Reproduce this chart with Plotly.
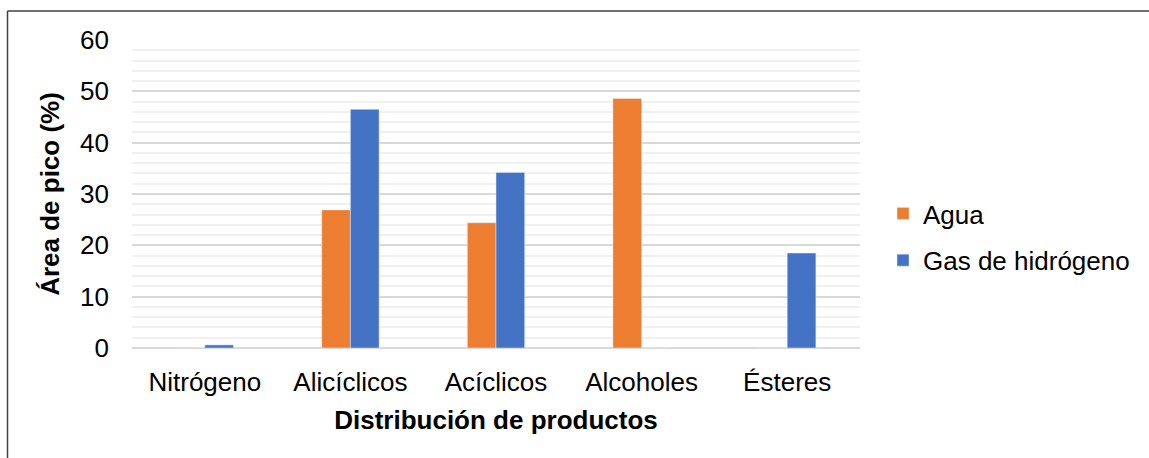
import plotly.graph_objects as go

# Product distribution by peak area (%)
categories = ["Nitrógeno", "Alicíclicos", "Acíclicos", "Alcoholes", "Ésteres"]
agua = [0, 26.9, 24.4, 48.6, 0]
gas_hidrogeno = [0.6, 46.5, 34.2, 0, 18.5]
y_ticks = [0, 10, 20, 30, 40, 50, 60]

FONT = "Liberation Sans, Arial, sans-serif"
FS = 26
W, H = 1149, 458
L, R, T, B = 132, 289, 40, 110
pw, ph = W - L - R, H - T - B

fig = go.Figure()
fig.add_trace(go.Bar(x=categories, y=agua, name="Agua", marker_color="#ED7D31",
                     legendgroup="a"))
fig.add_trace(go.Bar(x=categories, y=gas_hidrogeno, name="Gas de hidrógeno",
                     marker_color="#4472C4", legendgroup="b"))

# Outer frame lines (left and top edges)
fx = (7.5 - L) / pw
fy = (H - B - 11) / ph
fig.add_shape(type="line", xref="paper", yref="paper", x0=fx, x1=(W + 5 - L) / pw,
              y0=fy, y1=fy, line=dict(color="#404040", width=1.5))
fig.add_shape(type="line", xref="paper", yref="paper", x0=fx, x1=fx,
              y0=fy, y1=(H - B - H - 5) / ph, line=dict(color="#404040", width=1.5))

fig.update_layout(
    width=W, height=H,
    margin=dict(l=L, r=R, t=T, b=B),
    paper_bgcolor="white", plot_bgcolor="white",
    barmode="group", bargap=0.606, bargroupgap=0,
    font=dict(family=FONT, color="#000000", size=FS),
    legend=dict(x=(883 - L) / pw, y=(H - B - 237) / ph, xanchor="left", yanchor="middle",
                font=dict(size=FS, family=FONT), tracegroupgap=10,
                bgcolor="rgba(0,0,0,0)"),
    xaxis=dict(
        title=dict(text="<b>Distribución de productos</b>", font=dict(size=FS), standoff=14),
        tickfont=dict(size=FS), showline=False, showgrid=False, ticks="",
        ticklabelstandoff=16,
    ),
    yaxis=dict(
        title=dict(text="<b>Área de pico (%)</b>", font=dict(size=FS), standoff=12),
        range=[0, 60], tickvals=y_ticks, tickfont=dict(size=FS),
        showgrid=True, gridcolor="#D9D9D9", gridwidth=1.5,
        zeroline=True, zerolinecolor="#D9D9D9", zerolinewidth=1.5,
        showline=False, ticks="", ticklabelstandoff=22,
        minor=dict(dtick=2, showgrid=True, gridcolor="#F0F0F0", gridwidth=1.5),
    ),
)

fig.write_html("out.html")
